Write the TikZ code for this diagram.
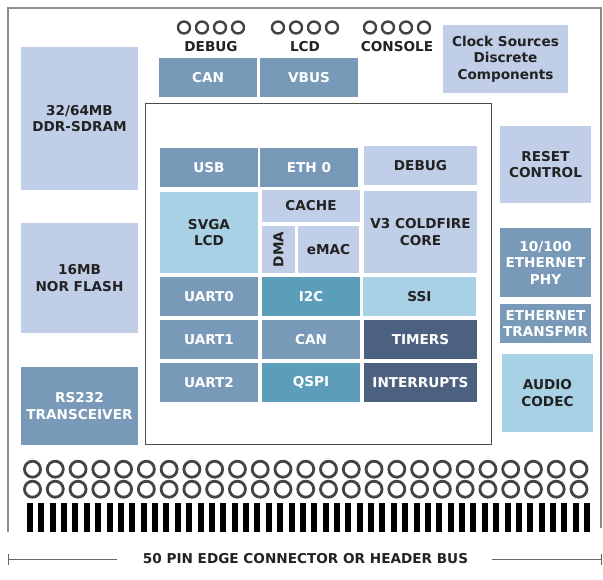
\documentclass[tikz,border=0pt]{standalone}
\usepackage{fontspec}
\setmainfont{DejaVu Sans}
\definecolor{peri}{HTML}{C0CEE7}
\definecolor{lblue}{HTML}{A8D1E5}
\definecolor{steel}{HTML}{7899B8}
\definecolor{teal2}{HTML}{5C9DB9}
\definecolor{slate}{HTML}{4B617F}
\definecolor{ink}{HTML}{222222}
\definecolor{framec}{HTML}{8C8C8C}
\definecolor{pin}{HTML}{444448}
\tikzset{
  blk/.style={inner sep=0pt, align=center, font=\fontsize{13.6}{16.5}\selectfont\bfseries},
  lightblk/.style={blk, text=ink},
  darkblk/.style={blk, text=white},
  pinring/.style={draw=pin, line width=2.8pt},
  hdrring/.style={draw=pin, line width=2.4pt},
  toptxt/.style={inner sep=0pt, font=\fontsize{13.6}{16.5}\selectfont\bfseries, text=ink}
}
\begin{document}
\begin{tikzpicture}[x=1pt,y=-1pt]
\useasboundingbox (0,0) rectangle (603,579);
% outer frame
\coordinate (fbl) at (8,532);
\coordinate (ftl) at (8,8);
\coordinate (ftr) at (601,8);
\coordinate (fbr) at (601,528);
\draw[framec, line width=1.6pt] (fbl) -- (ftl) -- (ftr) -- (fbr);
% header circles
\foreach \cx in {211,305,397}{
  \foreach \k in {-27,-9,9,27}{
    \draw[hdrring] (\cx+\k,27.5) circle (6);
  }
}
\node[toptxt] (hdebug) at (211,46.5) {DEBUG};
\node[toptxt] (hlcd) at (305,46.5) {LCD};
\node[toptxt] (hcons) at (397,46.5) {CONSOLE};
% left column
\node[lightblk, fill=peri, minimum width=117, minimum height=143] (ddr) at (79.5,118.5) {32/64MB\\DDR-SDRAM};
\node[lightblk, fill=peri, minimum width=117, minimum height=110] (nor) at (79.5,278) {16MB\\NOR FLASH};
\node[darkblk, fill=steel, minimum width=117, minimum height=78] (rs) at (79.5,406) {RS232\\TRANSCEIVER};
% top row
\node[darkblk, fill=steel, minimum width=98, minimum height=39] (can1) at (208,77.5) {CAN};
\node[darkblk, fill=steel, minimum width=98, minimum height=39] (vbus) at (309,77.5) {VBUS};
\node[lightblk, fill=peri, minimum width=125, minimum height=68] (clk) at (505.5,59) {Clock Sources\\Discrete\\Components};
% right column
\node[lightblk, fill=peri, minimum width=91, minimum height=77] (reset) at (545.5,164.5) {RESET\\CONTROL};
\node[darkblk, fill=steel, minimum width=91, minimum height=69] (phy) at (545.5,262.5) {10/100\\ETHERNET\\PHY};
\node[darkblk, fill=steel, minimum width=91, minimum height=39] (xfmr) at (545.5,323.5) {ETHERNET\\TRANSFMR};
\node[lightblk, fill=lblue, minimum width=91, minimum height=78] (audio) at (547.5,393) {AUDIO\\CODEC};
% processor box
\node[draw=black!70, line width=0.9pt, fill=white, minimum width=346, minimum height=341, inner sep=0pt] (cpu) at (318.5,274) {};
\node[darkblk, fill=steel, minimum width=98, minimum height=39] (usb) at (209,167.5) {USB};
\node[darkblk, fill=steel, minimum width=98, minimum height=39] (eth) at (309,167.5) {ETH 0};
\node[lightblk, fill=peri, minimum width=113, minimum height=39] (dbg) at (420.5,165.5) {DEBUG};
\node[lightblk, fill=lblue, minimum width=98, minimum height=81] (svga) at (209,232.5) {SVGA\\LCD};
\node[lightblk, fill=peri, minimum width=98, minimum height=32] (cache) at (311,206) {CACHE};
\node[lightblk, fill=peri, minimum width=33, minimum height=47] (dmabox) at (278.5,249.5) {};
\node[lightblk, rotate=90] (dma) at (dmabox.center) {DMA};
\node[lightblk, fill=peri, minimum width=61, minimum height=47] (emac) at (328.5,249.5) {eMAC};
\node[lightblk, fill=peri, minimum width=113, minimum height=82] (core) at (420.5,232) {V3 COLDFIRE\\CORE};
\node[darkblk, fill=steel, minimum width=98, minimum height=39] (u0) at (209,296.5) {UART0};
\node[darkblk, fill=teal2, minimum width=98, minimum height=39] (i2c) at (311,296.5) {I2C};
\node[lightblk, fill=lblue, minimum width=113, minimum height=39] (ssi) at (419.5,296.5) {SSI};
\node[darkblk, fill=steel, minimum width=98, minimum height=39] (u1) at (209,339.5) {UART1};
\node[darkblk, fill=steel, minimum width=98, minimum height=39] (can2) at (311,339.5) {CAN};
\node[darkblk, fill=slate, minimum width=113, minimum height=39] (tim) at (420.5,339.5) {TIMERS};
\node[darkblk, fill=steel, minimum width=98, minimum height=39] (u2) at (209,382.5) {UART2};
\node[darkblk, fill=teal2, minimum width=98, minimum height=39] (qspi) at (311,382.5) {QSPI};
\node[darkblk, fill=slate, minimum width=113, minimum height=39] (irq) at (420.5,382.5) {INTERRUPTS};
% edge connector pins
\foreach \i in {0,...,24}{
  \draw[pinring] (32.5+\i*22.77,469.2) circle (8);
  \draw[pinring] (32.5+\i*22.77,489.2) circle (8);
}
\foreach \i in {0,...,49}{
  \fill[pin] (27+\i*11.37,503) rectangle ++(6,29);
}
% bottom label
\node[toptxt] (bus) at (305.5,559) {50 PIN EDGE CONNECTOR OR HEADER BUS};
\coordinate (bl) at (8,559);
\coordinate (blt) at (8,553.5);
\coordinate (blb) at (8,564.5);
\coordinate (br) at (601,559);
\coordinate (brt) at (601,553.5);
\coordinate (brb) at (601,564.5);
\draw[black!60, line width=1pt] (bl) -- ([xshift=-26pt]bus.west);
\draw[black!60, line width=1pt] (blt) -- (blb);
\draw[black!60, line width=1pt] ([xshift=24pt]bus.east) -- (br);
\draw[black!60, line width=1pt] (brt) -- (brb);
\end{tikzpicture}
\end{document}
